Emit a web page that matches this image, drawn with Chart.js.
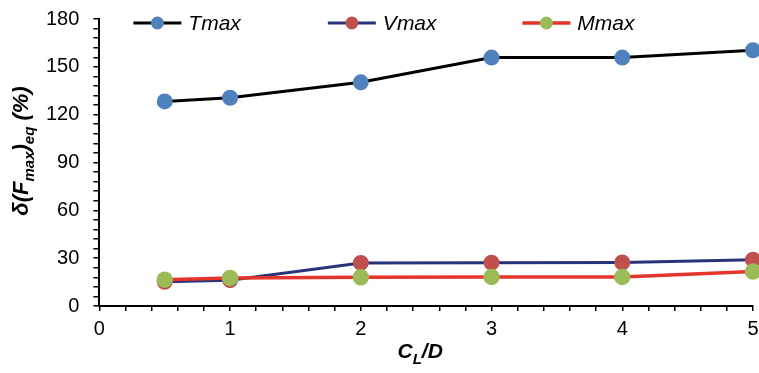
<!DOCTYPE html>
<html>
<head>
<meta charset="utf-8">
<script src="https://cdn.jsdelivr.net/npm/chart.js@4.4.0/dist/chart.umd.min.js"></script>
<style>
  html, body { margin: 0; padding: 0; background: #fff; }
  #wrap { width: 759px; height: 373px; }
</style>
</head>
<body>
<div id="wrap"><canvas id="grafico"></canvas></div>
<script>
const cld = [0.5, 1, 2, 3, 4, 5]
const tmax = [128.3, 130.6, 140.3, 155.8, 155.8, 160.4]
const vmax = [15.2, 16.2, 27.0, 27.2, 27.3, 29.0]
const mmax = [16.5, 17.6, 18.0, 18.2, 18.2, 21.6]
const nombres = ["Tmax", "Vmax", "Mmax"]

const fuente = "'Liberation Sans', Arial, sans-serif"

function puntos(valores) {
    return cld.map((x, i) => ({ x: x, y: valores[i] }))
}

// leyenda propia: linea + circulo + texto, dentro del area del grafico
const leyendaPropia = {
    id: "leyendaPropia",
    afterDraw(chart) {
        const ctx = chart.ctx
        const area = chart.chartArea
        const y = area.top + 4
        ctx.save()
        chart.data.datasets.slice().sort((a, b) => a.leyenda - b.leyenda).forEach((ds, i) => {
            const x0 = area.left + 34 + i * 194.5
            ctx.strokeStyle = ds.borderColor
            ctx.lineWidth = ds.borderWidth
            ctx.beginPath()
            ctx.moveTo(x0, y)
            ctx.lineTo(x0 + 48, y)
            ctx.stroke()
            ctx.fillStyle = ds.pointBackgroundColor
            ctx.beginPath()
            ctx.arc(x0 + 24, y, 6.5, 0, Math.PI * 2)
            ctx.fill()
            ctx.fillStyle = "#000"
            ctx.font = "italic 21px " + fuente
            ctx.textBaseline = "middle"
            ctx.fillText(ds.label, x0 + 55, y + 1)
        })
        ctx.restore()
    }
}

function dibujarPartes(ctx, partes, cx, cy) {
    let total = 0
    partes.forEach(p => {
        ctx.font = "bold italic " + p.t + "px " + fuente
        p.w = ctx.measureText(p.s).width
        total += p.w
    })
    let x = cx - total / 2
    partes.forEach(p => {
        ctx.font = "bold italic " + p.t + "px " + fuente
        ctx.fillText(p.s, x, cy + (p.sub ? 6 : 0))
        x += p.w
    })
}

// titulos de ejes con subindices
const titulos = {
    id: "titulos",
    afterDraw(chart) {
        const ctx = chart.ctx
        const area = chart.chartArea
        ctx.save()
        ctx.fillStyle = "#000"
        ctx.textBaseline = "alphabetic"
        dibujarPartes(ctx, [
            { s: "C", t: 21 },
            { s: "L", t: 15, sub: true },
            { s: "/D", t: 21 }
        ], (area.left + area.right) / 2 - 6, 358)

        ctx.translate(28, 151)
        ctx.rotate(-Math.PI / 2)
        dibujarPartes(ctx, [
            { s: "δ(F", t: 22 },
            { s: "max", t: 15, sub: true },
            { s: ")", t: 22 },
            { s: "eq", t: 15, sub: true },
            { s: " (%)", t: 22 }
        ], 0, 0)
        ctx.restore()
    }
}

const ctx = document.getElementById("grafico")

new Chart(ctx, {
    type: "line",
    data: {
        datasets: [
            {
                label: nombres[2],
                leyenda: 2,
                data: puntos(mmax),
                borderColor: "#E5342A",
                borderWidth: 3.5,
                pointBackgroundColor: "#9BBB59",
                pointBorderColor: "#9BBB59",
                clip: false,
                order: 0
            },
            {
                label: nombres[1],
                leyenda: 1,
                data: puntos(vmax),
                borderColor: "#28337A",
                borderWidth: 3,
                pointBackgroundColor: "#C0504D",
                pointBorderColor: "#C0504D",
                clip: false,
                order: 1
            },
            {
                label: nombres[0],
                leyenda: 0,
                data: puntos(tmax),
                borderColor: "#000000",
                borderWidth: 3,
                pointBackgroundColor: "#4F81BD",
                pointBorderColor: "#4F81BD",
                clip: false,
                order: 2
            }
        ]
    },
    options: {
        responsive: true,
        maintainAspectRatio: false,
        animation: false,
        layout: { autoPadding: false, padding: { left: 32, top: 19, right: 0, bottom: 26 } },
        elements: {
            point: { radius: 6.5, hoverRadius: 6.5, borderWidth: 1 },
            line: { tension: 0 }
        },
        plugins: {
            legend: { display: false },
            tooltip: { enabled: false }
        },
        scales: {
            x: {
                type: "linear",
                min: 0,
                max: 5,
                border: { color: "#000", width: 2 },
                grid: { drawOnChartArea: false, color: "#000", tickLength: 5, lineWidth: 1.5 },
                afterFit: escala => { escala.paddingRight = 6 },
                ticks: {
                    stepSize: 0.2,
                    maxTicksLimit: 100,
                    autoSkip: false,
                    maxRotation: 0,
                    color: "#000",
                    font: { family: fuente, size: 20 },
                    padding: 6,
                    callback: v => Math.abs(v - Math.round(v)) < 1e-6 ? Math.round(v) : ""
                }
            },
            y: {
                min: 0,
                max: 180,
                border: { color: "#000", width: 2 },
                grid: { drawOnChartArea: false, color: "#000", tickLength: 6, lineWidth: 1.5 },
                afterFit: escala => { escala.paddingTop = 0 },
                ticks: {
                    stepSize: 6,
                    maxTicksLimit: 100,
                    autoSkip: false,
                    color: "#000",
                    font: { family: fuente, size: 20 },
                    padding: 14,
                    callback: v => Math.round(v) % 30 === 0 ? Math.round(v) : ""
                }
            }
        }
    },
    plugins: [leyendaPropia, titulos]
})
</script>
</body>
</html>
